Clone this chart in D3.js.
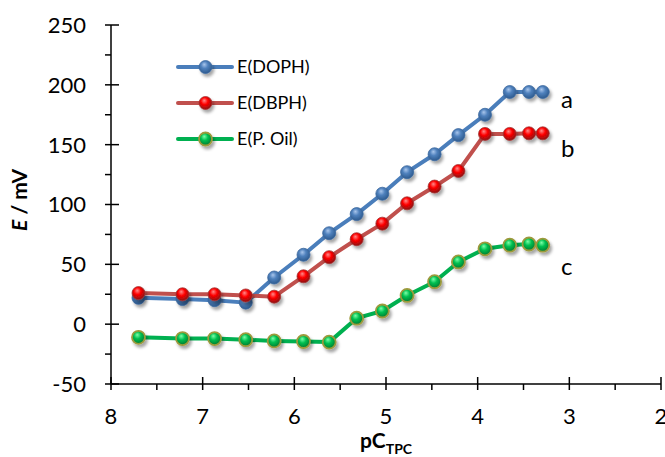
<!DOCTYPE html>
<html><head><meta charset="utf-8">
<script src="https://cdn.jsdelivr.net/npm/d3@7/dist/d3.min.js"></script>
<style>body{margin:0;background:#fff}svg{display:block}text{font-family:Lato,"Open Sans",sans-serif;fill:#000}</style>
</head><body><svg id="c" width="665" height="457"></svg>
<script>
const pC = [7.70, 7.22, 6.87, 6.53, 6.22, 5.90, 5.62, 5.32, 5.04, 4.77, 4.47, 4.21, 3.92, 3.65, 3.44, 3.29];
const eDOPH = [22, 21, 20, 18, 39, 58, 76, 92, 109, 127, 142, 158, 175, 194, 194, 194];
const eDBPH = [26, 25, 25, 24, 23, 40, 56, 71, 84, 101, 115, 128, 159, 159, 159.5, 159.5];
const ePOil = [-11, -12, -12, -13, -14, -14.5, -15, 5, 11, 24, 35.5, 52, 63, 66, 67, 66];
const seriesNames = ["E(DOPH)", "E(DBPH)", "E(P. Oil)"];
const curveLabels = ["a", "b", "c"];
const xTicks = [8, 7, 6, 5, 4, 3, 2];
const yTicks = [-50, 0, 50, 100, 150, 200, 250];

const svg = d3.select("#c");
const x = d3.scaleLinear().domain([8, 2]).range([111, 661]);
const y = d3.scaleLinear().domain([-50, 250]).range([384, 25]);

const defs = svg.append("defs");
const f = defs.append("filter").attr("id", "sh").attr("x", "-50%").attr("y", "-50%").attr("width", "200%").attr("height", "200%");
f.append("feDropShadow").attr("dx", 2).attr("dy", 3).attr("stdDeviation", 1.6).attr("flood-color", "#000").attr("flood-opacity", 0.35);
const styles = [
  {line: "#4a7ebb", stops: ["#a9c6ec", "#4f81bd", "#2d5a8e"], ring: "#3d6a9f"},
  {line: "#c0504d", stops: ["#ff8a8a", "#ff0000", "#8b1010"], ring: "#a43533"},
  {line: "#00b050", stops: ["#7dffa8", "#00c050", "#007a30"], ring: "#9c9a3c"}
];
styles.forEach((s, i) => {
  const g = defs.append("radialGradient").attr("id", "g" + i).attr("cx", "45%").attr("cy", "40%").attr("r", "60%").attr("fx", "40%").attr("fy", "30%");
  g.append("stop").attr("offset", "0%").attr("stop-color", s.stops[0]);
  g.append("stop").attr("offset", "45%").attr("stop-color", s.stops[1]);
  g.append("stop").attr("offset", "100%").attr("stop-color", s.stops[2]);
});

// axes
const yAxis = svg.append("g").attr("transform", "translate(111,0)");
yAxis.append("line").attr("y1", y(250)).attr("y2", y(-50)).attr("stroke", "#000").attr("stroke-width", 1.5);
const yMinor = d3.range(-50, 251, 25);
yAxis.selectAll(".ym").data(yMinor).join("line").attr("x1", d => d % 50 === 0 ? -6 : -6).attr("x2", d => d % 50 === 0 ? 8 : 0)
  .attr("y1", d => y(d)).attr("y2", d => y(d)).attr("stroke", "#000").attr("stroke-width", 1.5);
yAxis.selectAll(".yl").data(yTicks).join("text").attr("x", -25).attr("y", d => y(d)).attr("dy", "0.36em")
  .attr("text-anchor", "end").attr("font-size", 22).text(d => d);

const xAxis = svg.append("g").attr("transform", "translate(0,384)");
xAxis.append("line").attr("x1", x(8)).attr("x2", x(2)).attr("stroke", "#000").attr("stroke-width", 1.5);
const xMinor = d3.range(2, 8.01, 0.5);
xAxis.selectAll(".xm").data(xMinor).join("line").attr("x1", d => x(d)).attr("x2", d => x(d))
  .attr("y1", d => Number.isInteger(d) ? -7 : 0).attr("y2", 6).attr("stroke", "#000").attr("stroke-width", 1.5);
xAxis.selectAll(".xl").data(xTicks).join("text").attr("x", d => x(d)).attr("y", 40)
  .attr("text-anchor", "middle").attr("font-size", 22).text(d => d);

// axis titles
const xt = svg.append("text").attr("x", x(5)).attr("y", 448).attr("text-anchor", "middle").attr("font-weight", "bold").attr("font-size", 21);
xt.append("tspan").text("pC");
xt.append("tspan").attr("font-size", 14).attr("dy", 6).text("TPC");
const yt = svg.append("text").attr("transform", "translate(27,200) rotate(-90)").attr("text-anchor", "middle").attr("font-weight", "bold").attr("font-size", 21);
yt.append("tspan").attr("font-style", "italic").text("E");
yt.append("tspan").text(" / mV");

// series
const all = [eDOPH, eDBPH, ePOil];
const line = d3.line().x(d => x(d[0])).y(d => y(d[1]));
all.forEach((vals, i) => {
  const pts = pC.map((p, j) => [p, vals[j]]);
  svg.append("path").datum(pts).attr("d", line).attr("fill", "none").attr("stroke", styles[i].line)
    .attr("stroke-width", 4).attr("stroke-linejoin", "round").attr("stroke-linecap", "round");
});
all.forEach((vals, i) => {
  const pts = pC.map((p, j) => [p, vals[j]]);
  svg.append("g").attr("filter", "url(#sh)").selectAll("circle").data(pts).join("circle")
    .attr("cx", d => x(d[0])).attr("cy", d => y(d[1])).attr("r", 6.5)
    .attr("fill", `url(#g${i})`).attr("stroke", styles[i].ring).attr("stroke-width", i === 2 ? 1.8 : 0.8);
});

// curve labels
const lblY = [108, 157, 275];
curveLabels.forEach((t, i) => {
  svg.append("text").attr("x", 561).attr("y", lblY[i]).attr("font-size", 24).text(t);
});

// legend
const legY = [67, 103, 139];
seriesNames.forEach((n, i) => {
  const g = svg.append("g");
  g.append("line").attr("x1", 178).attr("x2", 232).attr("y1", legY[i]).attr("y2", legY[i])
    .attr("stroke", styles[i].line).attr("stroke-width", 4).attr("stroke-linecap", "round");
  g.append("circle").attr("cx", 205.5).attr("cy", legY[i]).attr("r", 6.5).attr("fill", `url(#g${i})`)
    .attr("stroke", styles[i].ring).attr("stroke-width", i === 2 ? 1.8 : 0.8).attr("filter", "url(#sh)");
  g.append("text").attr("x", 237).attr("y", legY[i]).attr("dy", "0.36em").attr("font-size", 18).text(n);
});
</script></body></html>
